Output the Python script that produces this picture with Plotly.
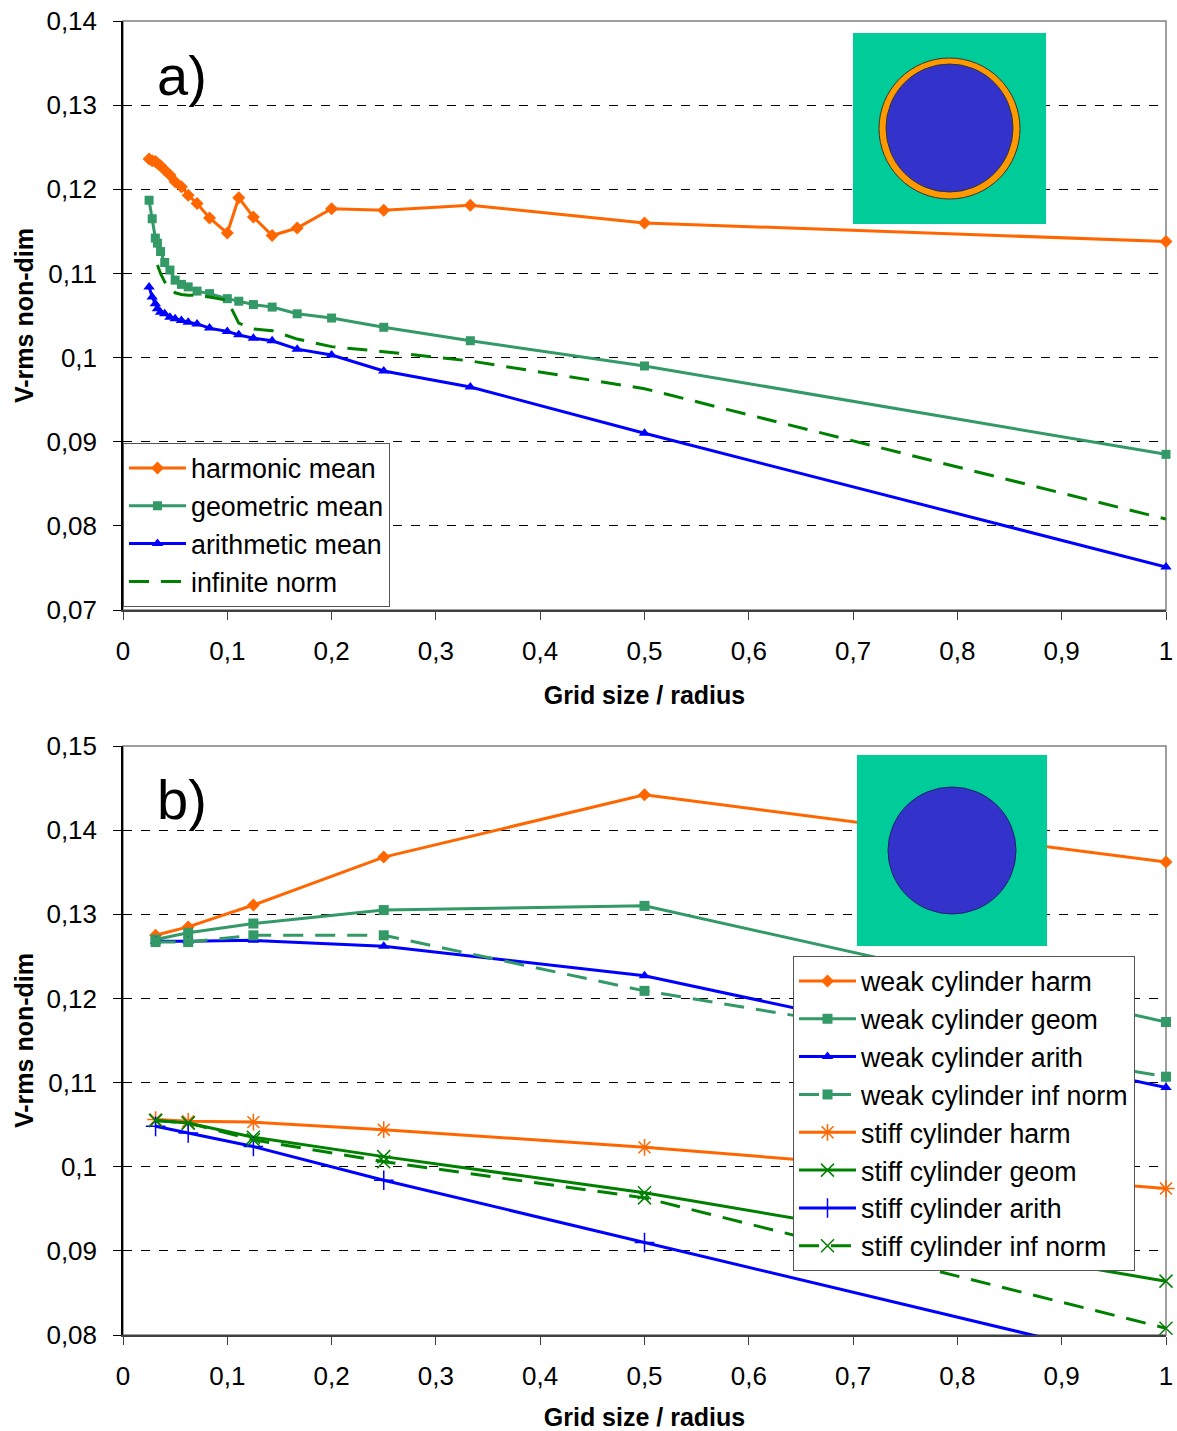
import plotly.graph_objects as go

# ---------------- data: panel a) ----------------
x_a = [0.025, 0.028, 0.031, 0.033, 0.036, 0.040, 0.045, 0.050, 0.056, 0.0625, 0.071,
       0.083, 0.100, 0.111, 0.125, 0.143, 0.167, 0.200, 0.250, 0.333, 0.500, 1.000]
harmonic_mean = [0.1236, 0.1234, 0.1233, 0.1231, 0.1228, 0.1223, 0.1217, 0.1209, 0.1203, 0.1193, 0.1183,
                 0.1166, 0.1148, 0.1190, 0.1167, 0.1145, 0.1154, 0.1177, 0.1175, 0.1181, 0.1160, 0.1138]
geometric_mean = [0.1187, 0.1165, 0.1142, 0.1136, 0.1126, 0.1113, 0.1104, 0.1092, 0.1087, 0.1084, 0.1079,
                  0.1076, 0.1070, 0.1067, 0.1063, 0.1060, 0.1052, 0.1047, 0.1036, 0.1020, 0.0990, 0.0885]
arithmetic_mean = [0.1084, 0.1072, 0.1064, 0.1058, 0.1054, 0.1052, 0.1048, 0.1046, 0.1044, 0.1042, 0.1040,
                   0.1035, 0.1031, 0.1027, 0.1023, 0.1020, 0.1010, 0.1003, 0.0984, 0.0965, 0.0910, 0.0751]
x_a_inf = [0.033, 0.036, 0.040, 0.045, 0.050, 0.056, 0.0625, 0.071, 0.083, 0.100,
           0.111, 0.125, 0.143, 0.167, 0.200, 0.250, 0.333, 0.500, 1.000]
infinite_norm = [0.1110, 0.1100, 0.1090, 0.1082, 0.1077, 0.1075, 0.1074, 0.1074, 0.1072, 0.1068,
                 0.1041, 0.1034, 0.1032, 0.1022, 0.1013, 0.1007, 0.0996, 0.0963, 0.0808]

# ---------------- data: panel b) ----------------
x_b = [0.03125, 0.0625, 0.125, 0.25, 0.5, 1.0]
weak_harm = [0.1275, 0.1285, 0.1311, 0.1368, 0.1442, 0.1362]
weak_geom = [0.1270, 0.1278, 0.1289, 0.1305, 0.1310, 0.1172]
weak_arith = [0.1268, 0.1268, 0.1269, 0.1262, 0.1227, 0.1094]
weak_inf = [0.1267, 0.1267, 0.1275, 0.1275, 0.1209, 0.1107]
stiff_harm = [0.1056, 0.1054, 0.1053, 0.1044, 0.1023, 0.0974]
stiff_geom = [0.1055, 0.1052, 0.1035, 0.1012, 0.0969, 0.0864]
stiff_arith = [0.1048, 0.1040, 0.1024, 0.0984, 0.0910, 0.0762]
stiff_inf = [0.1055, 0.1052, 0.1032, 0.1006, 0.0963, 0.0808]

# ticks
x_ticks = [0, 0.1, 0.2, 0.3, 0.4, 0.5, 0.6, 0.7, 0.8, 0.9, 1]
x_tick_text = ["0", "0,1", "0,2", "0,3", "0,4", "0,5", "0,6", "0,7", "0,8", "0,9", "1"]
ya_ticks = [0.07, 0.08, 0.09, 0.10, 0.11, 0.12, 0.13, 0.14]
ya_tick_text = ["0,07", "0,08", "0,09", "0,1", "0,11", "0,12", "0,13", "0,14"]
yb_ticks = [0.08, 0.09, 0.10, 0.11, 0.12, 0.13, 0.14, 0.15]
yb_tick_text = ["0,08", "0,09", "0,1", "0,11", "0,12", "0,13", "0,14", "0,15"]

# ---------------- style ----------------
W, H = 1177, 1431
ML, MR, MT, MB = 123, 11, 21, 96
FONT = "Liberation Sans, Arial, sans-serif"
ORANGE = "#FF6600"
SEAGREEN = "#339966"
DKGREEN = "#008000"
BLUE = "#0000FF"
DASH = "20px,12px"


def px(x):
    return (x - ML) / (W - ML - MR)


def py(y):
    return (H - MB - y) / (H - MT - MB)


fig = go.Figure()


def add(x, y, name, color, symbol, size, xa, ya, legend, dash="solid", mline=None, clip=False):
    marker = dict(symbol=symbol, size=size, color=color)
    if mline:
        marker["line"] = dict(color=color, width=mline)
    fig.add_trace(go.Scatter(
        x=x, y=y, name=name, mode="lines+markers" if symbol else "lines",
        line=dict(color=color, width=3, dash=dash),
        marker=marker, xaxis=xa, yaxis=ya, legend=legend,
        legendgroup=name, cliponaxis=clip))


add(x_a, harmonic_mean, "harmonic mean", ORANGE, "diamond", 10, "x", "y", "legend")
add(x_a, geometric_mean, "geometric mean", SEAGREEN, "square", 9, "x", "y", "legend")
add(x_a, arithmetic_mean, "arithmetic mean", BLUE, "triangle-up", 10, "x", "y", "legend")
add(x_a_inf, infinite_norm, "infinite norm", DKGREEN, None, 0, "x", "y", "legend", dash=DASH)

add(x_b, weak_harm, "weak cylinder harm", ORANGE, "diamond", 10, "x2", "y2", "legend2")
add(x_b, weak_geom, "weak cylinder geom", SEAGREEN, "square", 10, "x2", "y2", "legend2")
add(x_b, weak_arith, "weak cylinder arith", BLUE, "triangle-up", 10, "x2", "y2", "legend2")
add(x_b, weak_inf, "weak cylinder inf norm", SEAGREEN, "square", 10, "x2", "y2", "legend2", dash=DASH)
add(x_b, stiff_harm, "stiff cylinder harm", ORANGE, "asterisk-open", 14, "x2", "y2", "legend2", mline=1.5)
add(x_b, stiff_geom, "stiff cylinder geom", DKGREEN, "x-thin-open", 13, "x2", "y2", "legend2", mline=1.5)
add(x_b, stiff_arith, "stiff cylinder arith", BLUE, "cross-thin-open", 14, "x2", "y2", "legend2", mline=1.5, clip=True)
add(x_b, stiff_inf, "stiff cylinder inf norm", DKGREEN, "x-thin-open", 13, "x2", "y2", "legend2", dash=DASH, mline=1.5)

top_dom = [py(610), 1.0]
bot_dom = [0.0, py(746)]

xcommon = dict(range=[0, 1], tickvals=x_ticks, ticktext=x_tick_text, showgrid=False, zeroline=False,
               showline=True, linecolor="#404040", linewidth=1.5, ticks="outside", ticklen=8,
               tickcolor="#404040", tickfont=dict(family=FONT, size=26, color="black"),
               ticklabelstandoff=9,
               title=dict(text="<b>Grid size / radius</b>", font=dict(family=FONT, size=25, color="black"),
                          standoff=22))
ycommon = dict(showgrid=True, gridcolor="black", gridwidth=1, griddash="dash", zeroline=False,
               showline=True, linecolor="black", linewidth=1.5, ticks="outside", ticklen=8,
               tickcolor="black", tickfont=dict(family=FONT, size=26, color="black"),
               ticklabelstandoff=11,
               title=dict(text="<b>V-rms non-dim</b>", font=dict(family=FONT, size=25, color="black"),
                          standoff=6))

fig.update_layout(
    xaxis=dict(domain=[0, 1], anchor="y", **xcommon),
    yaxis=dict(domain=top_dom, anchor="x", range=[0.07, 0.14], tickvals=ya_ticks, ticktext=ya_tick_text, **ycommon),
    xaxis2=dict(domain=[0, 1], anchor="y2", **xcommon),
    yaxis2=dict(domain=bot_dom, anchor="x2", range=[0.08, 0.15], tickvals=yb_ticks, ticktext=yb_tick_text, **ycommon),
)

legend_common = dict(bgcolor="white", bordercolor="#555555", borderwidth=1,
                     font=dict(family=FONT, size=26.8, color="black"),
                     xanchor="left", yanchor="top", itemwidth=57, tracegroupgap=0,
                     traceorder="normal")
fig.update_layout(
    legend=dict(x=px(123), y=py(443), **legend_common),
    legend2=dict(x=px(793), y=py(956), **legend_common),
)

shapes = []
# plot-area frames
for (t, b) in [(21, 610), (746, 1335)]:
    shapes.append(dict(type="rect", xref="paper", yref="paper", x0=0, x1=1, y0=py(b), y1=py(t),
                       line=dict(color="#808080", width=1.5), fillcolor="rgba(0,0,0,0)", layer="between"))
# inset a): coated cylinder
shapes.append(dict(type="rect", xref="paper", yref="paper", x0=px(853), x1=px(1046), y0=py(224), y1=py(33),
                   fillcolor="#00CC99", line=dict(width=0), layer="above"))
shapes.append(dict(type="circle", xref="paper", yref="paper", x0=px(879), x1=px(1020), y0=py(199), y1=py(58),
                   fillcolor="#FF9900", line=dict(color="#333333", width=1), layer="above"))
shapes.append(dict(type="circle", xref="paper", yref="paper", x0=px(886), x1=px(1013), y0=py(192), y1=py(64),
                   fillcolor="#3333CC", line=dict(color="#333333", width=1), layer="above"))
# inset b): plain cylinder
shapes.append(dict(type="rect", xref="paper", yref="paper", x0=px(857), x1=px(1047), y0=py(946), y1=py(755),
                   fillcolor="#00CC99", line=dict(width=0), layer="above"))
shapes.append(dict(type="circle", xref="paper", yref="paper", x0=px(888), x1=px(1016), y0=py(914), y1=py(787),
                   fillcolor="#3333CC", line=dict(color="#222266", width=1), layer="above"))

annotations = [
    dict(text="a)", xref="paper", yref="paper", x=px(182), y=py(76), showarrow=False,
         font=dict(family=FONT, size=56, color="black"), xanchor="center", yanchor="middle"),
    dict(text="b)", xref="paper", yref="paper", x=px(182), y=py(799), showarrow=False,
         font=dict(family=FONT, size=56, color="black"), xanchor="center", yanchor="middle"),
]

fig.update_layout(
    width=W, height=H, margin=dict(l=ML, r=MR, t=MT, b=MB, autoexpand=False),
    paper_bgcolor="white", plot_bgcolor="white",
    font=dict(family=FONT, color="black"),
    shapes=shapes, annotations=annotations, showlegend=True,
)

fig.write_html("out.html")
